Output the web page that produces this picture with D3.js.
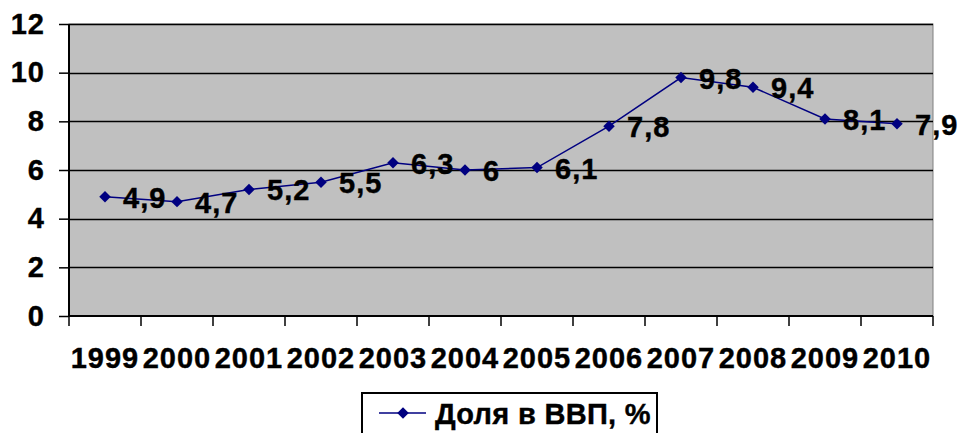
<!DOCTYPE html>
<html>
<head>
<meta charset="utf-8">
<script src="https://cdn.jsdelivr.net/npm/d3@7"></script>
<style>
  body { margin: 0; background: #fff; }
  svg { display: block; font-family: Arial, "Liberation Sans", sans-serif; font-weight: bold; }
  .big { font-size: 29px; letter-spacing: 1px; stroke: #000; stroke-width: 0.4px; }
</style>
</head>
<body>
<div id="chart"></div>
<script>
const years = ["1999", "2000", "2001", "2002", "2003", "2004", "2005", "2006", "2007", "2008", "2009", "2010"]
const shares = [4.9, 4.7, 5.2, 5.5, 6.3, 6, 6.1, 7.8, 9.8, 9.4, 8.1, 7.9]
const labels = ["4,9", "4,7", "5,2", "5,5", "6,3", "6", "6,1", "7,8", "9,8", "9,4", "8,1", "7,9"]
const yTicks = [0, 2, 4, 6, 8, 10, 12]
const seriesName = "Доля в ВВП, %"

const W = 960, H = 433
const margin = { top: 24, right: 27, bottom: 117, left: 69 }
const width = W - margin.left - margin.right
const height = H - margin.top - margin.bottom

const svg = d3.select("#chart").append("svg")
  .attr("width", W)
  .attr("height", H)

const g = svg.append("g")
  .attr("transform", `translate(${margin.left}, ${margin.top})`)

const x = d3.scaleBand().domain(years).range([0, width])
const y = d3.scaleLinear().domain([0, 12]).range([height, 0])

// plot area
g.append("rect")
  .attr("width", width)
  .attr("height", height)
  .attr("fill", "#c0c0c0")
  .attr("stroke", "#808080")
  .attr("stroke-width", 1)

// gridlines
g.append("g")
  .selectAll("line")
  .data(yTicks.filter(d => d > 0))
  .join("line")
  .attr("x1", 0)
  .attr("x2", width)
  .attr("y1", d => Math.round(y(d)) + 0.5)
  .attr("y2", d => Math.round(y(d)) + 0.5)
  .attr("stroke", "#000")
  .attr("stroke-width", 1.5)

// y axis
g.append("g")
  .call(d3.axisLeft(y).tickValues(yTicks).tickSize(10).tickPadding(14))
  .call(a => a.select(".domain").attr("stroke-width", 2).attr("d", `M0,${height}V0`))
  .call(a => a.selectAll(".tick line").attr("stroke-width", 1.5))
  .call(a => a.selectAll(".tick text")
    .attr("class", "big")
    .style("font-family", "Arial, 'Liberation Sans', sans-serif")
    .style("font-weight", "bold")
    .attr("fill", "#000"))

// x axis with ticks between categories
const xAxis = g.append("g").attr("transform", `translate(0, ${height})`)
xAxis.append("line")
  .attr("x1", 0).attr("x2", width)
  .attr("stroke", "#000").attr("stroke-width", 2)
xAxis.selectAll(".xt")
  .data(d3.range(years.length + 1))
  .join("line")
  .attr("class", "xt")
  .attr("x1", i => i * x.bandwidth())
  .attr("x2", i => i * x.bandwidth())
  .attr("y1", 0).attr("y2", 10)
  .attr("stroke", "#000").attr("stroke-width", 1.5)
xAxis.selectAll("text")
  .data(years)
  .join("text")
  .attr("class", "big")
  .attr("x", d => x(d) + x.bandwidth() / 2)
  .attr("y", 52)
  .attr("text-anchor", "middle")
  .text(d => d)

// line
const cx = (d, i) => x(years[i]) + x.bandwidth() / 2
const line = d3.line()
  .x((d, i) => cx(d, i))
  .y(d => y(d))

g.append("path")
  .datum(shares)
  .attr("d", line)
  .attr("fill", "none")
  .attr("stroke", "#000080")
  .attr("stroke-width", 1.5)

const diamond = d3.symbol().type(d3.symbolDiamond2).size(84)
g.selectAll(".pt")
  .data(shares)
  .join("path")
  .attr("class", "pt")
  .attr("d", diamond)
  .attr("transform", (d, i) => `translate(${cx(d, i)}, ${y(d)})`)
  .attr("fill", "#000080")

// data labels
g.selectAll(".lbl")
  .data(shares)
  .join("text")
  .attr("class", "lbl big")
  .attr("x", (d, i) => cx(d, i) + 18)
  .attr("y", d => y(d) + 11)
  .text((d, i) => labels[i])

// legend
const lg = svg.append("g").attr("transform", "translate(362, 393)")
lg.append("rect")
  .attr("width", 295)
  .attr("height", 50)
  .attr("fill", "#fff")
  .attr("stroke", "#000")
  .attr("stroke-width", 2)
lg.append("line")
  .attr("x1", 17).attr("x2", 64)
  .attr("y1", 20).attr("y2", 20)
  .attr("stroke", "#000080").attr("stroke-width", 1.5)
lg.append("path")
  .attr("d", diamond)
  .attr("transform", "translate(41, 20)")
  .attr("fill", "#000080")
lg.append("text")
  .attr("class", "big")
  .attr("x", 73)
  .attr("y", 31)
  .style("letter-spacing", "0.3px")
  .text(seriesName)
</script>
</body>
</html>
